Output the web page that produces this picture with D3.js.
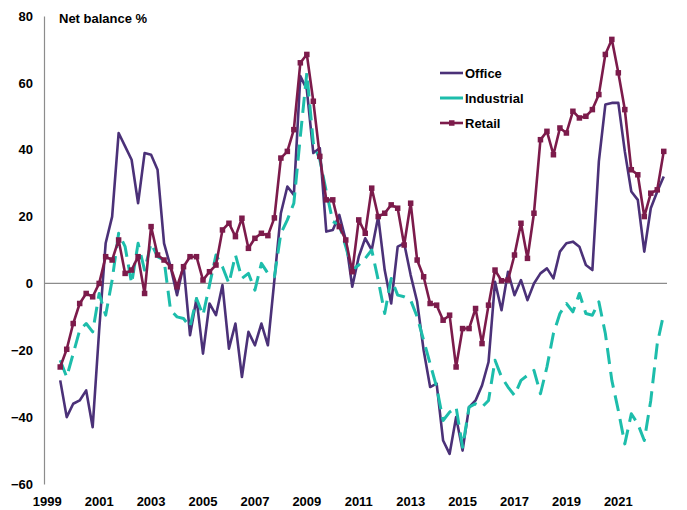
<!DOCTYPE html>
<html>
<head>
<meta charset="utf-8">
<script src="https://d3js.org/d3.v7.min.js"></script>
<style>
  body { margin: 0; background: #fff; }
  text { font-family: "Liberation Sans", Arial, sans-serif; font-weight: bold; fill: #000; }
</style>
</head>
<body>
<svg width="687" height="510"></svg>
<script>
// quarters 1999 Q1 .. 2022 Q4, series start at 1999 Q3
var years = d3.range(1999, 2023)
var quarters = []
years.forEach(function (y) {
    for (var q = 1; q <= 4; q++) quarters.push(y + " Q" + q)
})
var firstQuarter = 2

var office = [-29, -40, -36, -35, -32, -43, -14, 12, 20, 45, 41, 37, 24, 39, 38.5, 34,
    12, 5, -3.5, 5.5, -15.5, -4.5, -21, -6, -9.5, -0.5, -19.5, -12, -28, -14.5, -18.5, -12,
    -18.5, 1, 21, 29, 26.5, 62, 58, 39, 40.5, 15.5, 16, 20.5, 13, -1, 8, 13.5,
    10, 20, 4, -6, 11, 12, 2.5, -5.5, -20, -31, -30, -47, -51, -40, -50, -37,
    -35, -30.5, -23.5, 0.5, -8, 3.5, -3.5, 1, -5, 0, 3, 4.5, 1.5, 9.5, 12, 12.5,
    11, 5.5, 4, 36.5, 53.5, 54, 54, 39.5, 27.5, 25, 9.5, 22.5, 27.5, 32]

var industrial = [-23, -28, -21, -14, -12, -14.5, -3, -9.5, 1, 15, 11, 0, 12, 4, 12, 8,
    7, -8, -10, -10.5, -13, -4.5, -9.5, -0.5, 8.5, 5, 0, 8.5, 1.5, 3, -2, 6,
    3, 2, 15, 19, 24, 44, 63, 42, 37, 27.5, 18.5, 17.5, 11, 4, 5.5, 7.5,
    10, 1, -9, 1.5, -3.5, -4, -5, -10, -17, -24, -31, -41, -38.5, -37, -49, -37,
    -36, -37, -35, -23, -28, -31, -33.5, -29, -27.5, -26, -33, -25, -15, -9, -6, -8.5,
    -3, -9, -9.5, -5.5, -15, -29, -38, -48, -39, -42, -47, -35, -18, -9]

var retail = [-25, -19.7, -12, -6, -3, -4, 0, 8, 7, 13, 3, 4, 8, -3, 17, 8.5,
    7, 5, -1, 5, 8, 8, 1, 3.5, 5.5, 16, 18, 14, 19.5, 10.5, 13.5, 15,
    14.3, 19.6, 37.5, 39.5, 46, 66, 68.5, 54.5, 38, 25, 25, 17, 13, 3.5, 19, 15,
    28.5, 20, 21, 23.5, 22.5, 11.5, 24, 7, 2, -6, -6.5, -11, -9.5, -25, -13.5, -13.5,
    -7.5, -18, -6.5, 4, 0.8, 1, 8.5, 18, 7.5, 21, 43, 45.5, 38.5, 46.5, 45, 51.5,
    49.5, 50, 52, 56.5, 68.5, 73, 63, 52, 34, 32.5, 20, 27, 28, 39.5]

var yTicks = [-60, -40, -20, 0, 20, 40, 60, 80]
var seriesNames = ["Office", "Industrial", "Retail"]

var svg = d3.select("svg")

var x = d3.scaleBand()
    .domain(quarters)
    .range([44, 667])

var y = d3.scaleLinear()
    .domain([-60, 80])
    .range([484, 16])

function toPoints(values) {
    return values.map(function (v, i) {
        return { q: quarters[i + firstQuarter], v: v }
    })
}

var series = [
    { name: "Office", points: toPoints(office), color: "#4b3178", dash: null, marker: false },
    { name: "Industrial", points: toPoints(industrial), color: "#1dbdab", dash: "16,8", marker: false },
    { name: "Retail", points: toPoints(retail), color: "#7c1b4b", dash: null, marker: true }
]

var line = d3.line()
    .x(function (d) { return x(d.q) + x.bandwidth() / 2; })
    .y(function (d) { return y(d.v); })

// y axis (line + labels only)
var yAxis = svg.append("g")
    .attr("transform", "translate(44,0)")
    .call(d3.axisLeft(y).tickValues(yTicks).tickSize(0).tickPadding(11))
yAxis.select(".domain").attr("stroke", "#8c8c8c").attr("stroke-width", 1.2)
yAxis.selectAll("text").style("font-size", "13px")

// x axis labels every two years
var xAxis = svg.append("g")
    .attr("transform", "translate(0,484)")
    .call(d3.axisBottom(x)
        .tickValues(quarters.filter(function (d, i) { return i % 8 == 0; }))
        .tickFormat(function (d) { return d.slice(0, 4); })
        .tickSize(0).tickPadding(13))
xAxis.select(".domain").remove()
xAxis.selectAll("text").style("font-size", "13px")

// zero line
svg.append("line")
    .attr("x1", 44).attr("x2", 667)
    .attr("y1", y(0)).attr("y2", y(0))
    .attr("stroke", "#8c8c8c")
    .attr("stroke-width", 1.2)

svg.append("text")
    .attr("x", 59).attr("y", 23)
    .style("font-size", "13px")
    .text("Net balance %")

var g = svg.append("g")

series.forEach(function (s) {
    g.append("path")
        .datum(s.points)
        .attr("fill", "none")
        .attr("stroke", s.color)
        .attr("stroke-width", s.dash ? 3 : 2.6)
        .attr("stroke-dasharray", s.dash)
        .attr("stroke-linejoin", "round")
        .attr("d", line)
    if (s.marker) {
        g.selectAll(".mk")
            .data(s.points)
            .enter().append("rect")
            .attr("x", function (d) { return x(d.q) + x.bandwidth() / 2 - 2.75; })
            .attr("y", function (d) { return y(d.v) - 2.75; })
            .attr("width", 5.5).attr("height", 5.5)
            .attr("fill", s.color)
    }
})

// legend
var legend = svg.append("g")
    .selectAll("g")
    .data(series)
    .enter().append("g")
    .attr("transform", function (d, i) { return "translate(440," + (73 + i * 25) + ")"; })

legend.append("line")
    .attr("x1", 0).attr("x2", 23)
    .attr("stroke", function (d) { return d.color; })
    .attr("stroke-width", function (d) { return d.dash ? 3 : 2.6; })

legend.filter(function (d) { return d.marker; })
    .append("rect")
    .attr("x", 9).attr("y", -2.75)
    .attr("width", 5.5).attr("height", 5.5)
    .attr("fill", function (d) { return d.color; })

legend.append("text")
    .attr("x", 25).attr("dy", "0.35em")
    .style("font-size", "13px")
    .text(function (d) { return d.name; })
</script>
</body>
</html>
